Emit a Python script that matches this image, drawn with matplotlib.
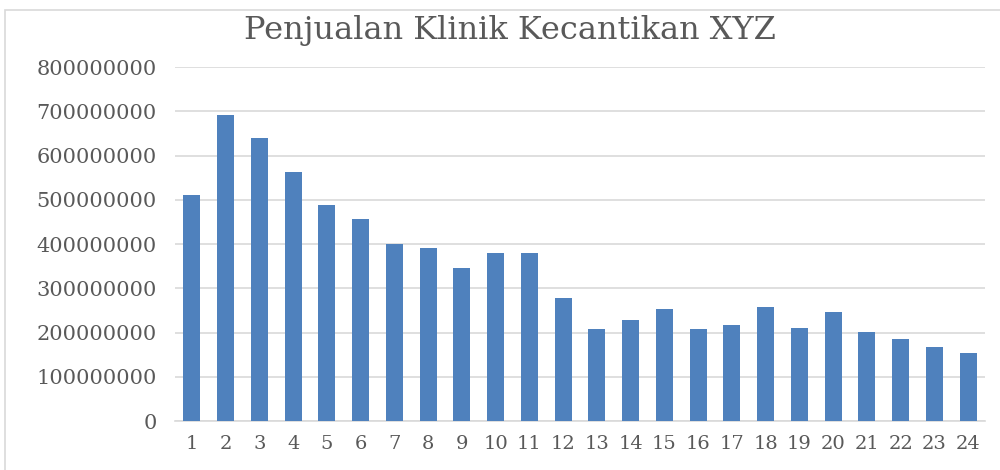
import matplotlib.pyplot as plt
from matplotlib.patches import Rectangle

# monthly sales values
months = list(range(1, 25))
sales = [
    512e6, 691e6, 640e6, 563e6, 489e6, 456e6, 400e6, 392e6,
    347e6, 379e6, 381e6, 279e6, 208e6, 228e6, 253e6, 209e6,
    218e6, 258e6, 211e6, 246e6, 201e6, 186e6, 167e6, 155e6,
]
yticks = [0, 100e6, 200e6, 300e6, 400e6, 500e6, 600e6, 700e6, 800e6]

plt.rcParams["font.family"] = ["DejaVu Serif"]

fig = plt.figure(figsize=(10, 4.7), dpi=100)
ax = fig.add_axes([0.175, 0.104, 0.81, 0.753])

ax.bar(months, sales, width=0.5, color="#4f81bd", zorder=3)

ax.set_xlim(0.5, 24.5)
ax.set_ylim(0, 800e6)
ax.set_yticks(yticks)
ax.set_yticklabels([f"{int(v)}" for v in yticks])
ax.set_xticks(months)
ax.set_xticklabels([str(m) for m in months])

ax.grid(axis="y", color="#d9d9d9", linewidth=1.2, zorder=0)
for s in ["top", "right", "left"]:
    ax.spines[s].set_visible(False)
ax.spines["bottom"].set_color("#d9d9d9")
ax.spines["bottom"].set_linewidth(1.2)
ax.tick_params(axis="y", length=0, colors="#595959", labelsize=15, pad=13)
ax.tick_params(axis="x", length=0, colors="#595959", labelsize=14, pad=10)

fig.text(0.51, 0.935, "Penjualan Klinik Kecantikan XYZ", ha="center", va="center",
         fontsize=23, color="#595959")

# outer chart border (only top/left visible in the crop)
fig.patches.append(Rectangle((0.005, -0.1), 1.1, 1.078, transform=fig.transFigure,
                             fill=False, edgecolor="#d9d9d9", linewidth=1.2))

fig.savefig("out.png", dpi=100)
